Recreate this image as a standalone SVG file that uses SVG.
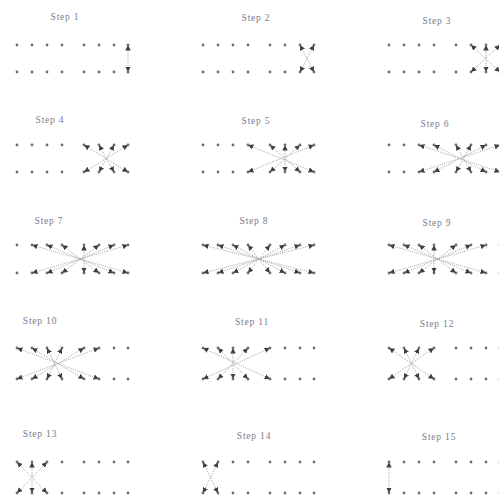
<svg xmlns="http://www.w3.org/2000/svg" xmlns:xlink="http://www.w3.org/1999/xlink" width="499" height="499" viewBox="0 0 499 499">
<style>
.lbl{font-family:"Liberation Serif","DejaVu Serif",serif;font-size:9.5px;fill:#7a7a8c;text-anchor:middle;letter-spacing:0.8px}
.dot{fill:#6e6e6e}
.c line{stroke:#a0a0a0;stroke-width:0.9;stroke-dasharray:1 1;marker-start:url(#ah);marker-end:url(#ah)}
</style>
<defs>
<marker id="ah" viewBox="0 0 6 6" refX="6" refY="3" markerWidth="5.5" markerHeight="5.5" markerUnits="userSpaceOnUse" orient="auto-start-reverse">
<path d="M0,0 L6,3 L0,6 z" fill="#404040"/>
</marker>
<g id="row">
<circle class="dot" cx="17" cy="0" r="1.4"/><circle class="dot" cx="32" cy="0" r="1.4"/><circle class="dot" cx="47" cy="0" r="1.4"/><circle class="dot" cx="62" cy="0" r="1.4"/><circle class="dot" cx="84" cy="0" r="1.4"/><circle class="dot" cx="99" cy="0" r="1.4"/><circle class="dot" cx="114" cy="0" r="1.4"/><circle class="dot" cx="128" cy="0" r="1.4"/>
</g>
</defs>
<rect width="499" height="499" fill="#ffffff"/>

<g id="step-1"><text class="lbl" x="65" y="20">Step 1</text><use id="s1-top" href="#row" x="0" y="45"/><use id="s1-bot" href="#row" x="0" y="72"/></g>
<g id="step-2"><text class="lbl" x="256" y="21">Step 2</text><use id="s2-top" href="#row" x="186" y="45"/><use id="s2-bot" href="#row" x="186" y="72"/></g>
<g id="step-3"><text class="lbl" x="437" y="24">Step 3</text><use id="s3-top" href="#row" x="372" y="45"/><use id="s3-bot" href="#row" x="372" y="72"/></g>

<g id="step-4"><text class="lbl" x="50" y="123">Step 4</text><use id="s4-top" href="#row" x="0" y="145"/><use id="s4-bot" href="#row" x="0" y="172"/></g>
<g id="step-5"><text class="lbl" x="256" y="124">Step 5</text><use id="s5-top" href="#row" x="186" y="145"/><use id="s5-bot" href="#row" x="186" y="172"/></g>
<g id="step-6"><text class="lbl" x="435" y="127">Step 6</text><use id="s6-top" href="#row" x="372" y="145"/><use id="s6-bot" href="#row" x="372" y="172"/></g>

<g id="step-7"><text class="lbl" x="49" y="224">Step 7</text><use id="s7-top" href="#row" x="0" y="245"/><use id="s7-bot" href="#row" x="0" y="273"/></g>
<g id="step-8"><text class="lbl" x="254" y="224">Step 8</text><use id="s8-top" href="#row" x="186" y="245"/><use id="s8-bot" href="#row" x="186" y="273"/></g>
<g id="step-9"><text class="lbl" x="437" y="226">Step 9</text><use id="s9-top" href="#row" x="372" y="245"/><use id="s9-bot" href="#row" x="372" y="273"/></g>

<g id="step-10"><text class="lbl" x="40" y="324">Step 10</text><use id="s10-top" href="#row" x="0" y="348"/><use id="s10-bot" href="#row" x="0" y="379"/></g>
<g id="step-11"><text class="lbl" x="252" y="325">Step 11</text><use id="s11-top" href="#row" x="186" y="348"/><use id="s11-bot" href="#row" x="186" y="379"/></g>
<g id="step-12"><text class="lbl" x="437" y="327">Step 12</text><use id="s12-top" href="#row" x="372" y="348"/><use id="s12-bot" href="#row" x="372" y="379"/></g>

<g id="step-13"><text class="lbl" x="40" y="437">Step 13</text><use id="s13-top" href="#row" x="0" y="462"/><use id="s13-bot" href="#row" x="0" y="493"/></g>
<g id="step-14"><text class="lbl" x="254" y="439">Step 14</text><use id="s14-top" href="#row" x="186" y="462"/><use id="s14-bot" href="#row" x="186" y="493"/></g>
<g id="step-15"><text class="lbl" x="439" y="440">Step 15</text><use id="s15-top" href="#row" x="372" y="462"/><use id="s15-bot" href="#row" x="372" y="493"/></g>

<g id="connectors" class="c">
<line x1="128" y1="45" x2="128" y2="72"/>
<line x1="300" y1="45" x2="314" y2="72"/><line x1="314" y1="45" x2="300" y2="72"/>
<line x1="471" y1="45" x2="500" y2="72"/><line x1="486" y1="45" x2="486" y2="72"/><line x1="500" y1="45" x2="471" y2="72"/>

<line x1="84" y1="145" x2="128" y2="172"/><line x1="99" y1="145" x2="114" y2="172"/><line x1="114" y1="145" x2="99" y2="172"/><line x1="128" y1="145" x2="84" y2="172"/>
<line x1="248" y1="145" x2="314" y2="172"/><line x1="270" y1="145" x2="300" y2="172"/><line x1="285" y1="145" x2="285" y2="172"/><line x1="300" y1="145" x2="270" y2="172"/><line x1="314" y1="145" x2="248" y2="172"/>
<line x1="419" y1="145" x2="500" y2="172"/><line x1="434" y1="145" x2="486" y2="172"/><line x1="456" y1="145" x2="471" y2="172"/><line x1="471" y1="145" x2="456" y2="172"/><line x1="486" y1="145" x2="434" y2="172"/><line x1="500" y1="145" x2="419" y2="172"/>

<line x1="32" y1="245" x2="128" y2="273"/><line x1="47" y1="245" x2="114" y2="273"/><line x1="62" y1="245" x2="99" y2="273"/><line x1="84" y1="245" x2="84" y2="273"/><line x1="99" y1="245" x2="62" y2="273"/><line x1="114" y1="245" x2="47" y2="273"/><line x1="128" y1="245" x2="32" y2="273"/>
<line x1="203" y1="245" x2="314" y2="273"/><line x1="218" y1="245" x2="300" y2="273"/><line x1="233" y1="245" x2="285" y2="273"/><line x1="248" y1="245" x2="270" y2="273"/><line x1="270" y1="245" x2="248" y2="273"/><line x1="285" y1="245" x2="233" y2="273"/><line x1="300" y1="245" x2="218" y2="273"/><line x1="314" y1="245" x2="203" y2="273"/>
<line x1="389" y1="245" x2="486" y2="273"/><line x1="404" y1="245" x2="471" y2="273"/><line x1="419" y1="245" x2="456" y2="273"/><line x1="434" y1="245" x2="434" y2="273"/><line x1="456" y1="245" x2="419" y2="273"/><line x1="471" y1="245" x2="404" y2="273"/><line x1="486" y1="245" x2="389" y2="273"/>

<line x1="17" y1="348" x2="99" y2="379"/><line x1="32" y1="348" x2="84" y2="379"/><line x1="47" y1="348" x2="62" y2="379"/><line x1="62" y1="348" x2="47" y2="379"/><line x1="84" y1="348" x2="32" y2="379"/><line x1="99" y1="348" x2="17" y2="379"/>
<line x1="203" y1="348" x2="270" y2="379"/><line x1="218" y1="348" x2="248" y2="379"/><line x1="233" y1="348" x2="233" y2="379"/><line x1="248" y1="348" x2="218" y2="379"/><line x1="270" y1="348" x2="203" y2="379"/>
<line x1="389" y1="348" x2="434" y2="379"/><line x1="404" y1="348" x2="419" y2="379"/><line x1="419" y1="348" x2="404" y2="379"/><line x1="434" y1="348" x2="389" y2="379"/>

<line x1="17" y1="462" x2="47" y2="493"/><line x1="32" y1="462" x2="32" y2="493"/><line x1="47" y1="462" x2="17" y2="493"/>
<line x1="203" y1="462" x2="218" y2="493"/><line x1="218" y1="462" x2="203" y2="493"/>
<line x1="389" y1="462" x2="389" y2="493"/>
</g>
</svg>
